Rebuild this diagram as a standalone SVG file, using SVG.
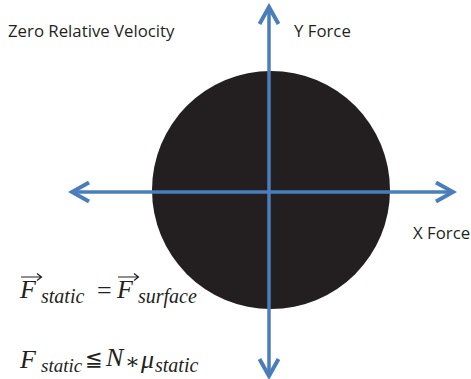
<svg xmlns="http://www.w3.org/2000/svg" width="471" height="379" viewBox="0 0 471 379">
<style>
.lbl{font-family:"Open Sans","Liberation Sans",sans-serif;font-size:16.8px;fill:#231f20}
.ax{stroke:#4a7ebb;stroke-width:3.5;fill:none}
.m{font-family:"Liberation Serif","DejaVu Serif",serif;fill:#231f20}
.mi{font-style:italic}
.big{font-size:26px}
.sub{font-size:20px}
.vec{stroke:#231f20;stroke-width:1.2;fill:none}
</style>
<defs>
<marker id="chev" viewBox="-20 -12 24 24" markerWidth="24" markerHeight="24" refX="0" refY="0" orient="auto-start-reverse" markerUnits="userSpaceOnUse">
<path d="M-17,-9.5 L0,0 L-17,9.5" fill="none" stroke="#4a7ebb" stroke-width="4" stroke-linejoin="miter"/>
</marker>
</defs>
<g id="body">
<circle cx="271" cy="190" r="119" fill="#231f20"/>
</g>
<g id="connectors">
<line class="ax" x1="72" y1="192" x2="453" y2="192" marker-start="url(#chev)" marker-end="url(#chev)"/>
<line class="ax" x1="269" y1="7" x2="269" y2="376" marker-start="url(#chev)" marker-end="url(#chev)"/>
</g>
<g id="labels">
<text class="lbl" x="8" y="37">Zero Relative Velocity</text>
<text class="lbl" x="294" y="37">Y Force</text>
<text class="lbl" x="413" y="239">X Force</text>
</g>
<g id="eq1">
<path class="vec" d="M21,277 H41 M37,273.5 L41.5,277 L37,280.5"/>
<text class="m mi big" x="20" y="298">F</text>
<text class="m mi sub" x="41" y="303">static</text>
<text class="m big" x="97" y="299">=</text>
<path class="vec" d="M118,277 H138 M134,273.5 L138.5,277 L134,280.5"/>
<text class="m mi big" x="117" y="298">F</text>
<text class="m mi sub" x="138" y="303">surface</text>
</g>
<g id="eq2">
<text class="m mi big" x="20" y="368">F</text>
<text class="m mi" font-size="19" x="41" y="372">static</text>
<text class="m" font-size="21" x="85" y="366">≦</text>
<text class="m mi big" x="106" y="366">N</text>
<text class="m" font-size="22" x="125" y="369">∗</text>
<text class="m mi big" x="141" y="368">μ</text>
<text class="m mi sub" x="155" y="372">static</text>
</g>
</svg>
